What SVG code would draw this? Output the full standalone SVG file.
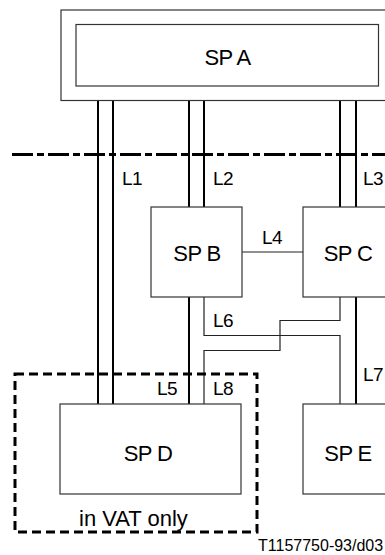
<svg xmlns="http://www.w3.org/2000/svg" width="385" height="555" viewBox="0 0 385 555">
<style>
.box{fill:#fff;stroke:#333;stroke-width:1.2}
.t{font-family:"Liberation Sans",Arial,sans-serif;fill:#000}
.sp{font-size:22px;text-anchor:middle;letter-spacing:-0.6px}
.lb{font-size:19px;letter-spacing:-0.6px}
.thick{stroke:#000;stroke-width:2;fill:none}
.thin{stroke:#222;stroke-width:1.2;fill:none}
</style>
<rect width="385" height="555" fill="#fff"/>
<g id="connectors">
<path class="thick" d="M98,100V404M113,100V404M189,100V207M204,100V207M340,100V207M356,100V207"/>
<path class="thick" d="M189,297V404M356,297V404"/>
<path class="thin" d="M242,252H303"/>
<path class="thin" d="M204,297V335.5H340V404"/>
<path class="thin" d="M340,297V320.5H280V350.5H204V404"/>
</g>
<g id="boundary">
<line x1="12" y1="154.5" x2="385" y2="154.5" stroke="#000" stroke-width="3" stroke-dasharray="21 4 7 4"/>
</g>
<g id="vat">
<rect x="15" y="374" width="242" height="158" fill="none" stroke="#000" stroke-width="3" stroke-dasharray="9 5"/>
<text class="t" x="79" y="526" font-size="22">in VAT only</text>
</g>
<g id="spa">
<rect class="box" x="61" y="10" width="340" height="90.5"/>
<rect class="box" x="76" y="24.5" width="302.5" height="61.5"/>
<text class="t sp" x="227.5" y="65">SP A</text>
</g>
<g id="spb">
<rect class="box" x="151" y="207" width="91" height="90"/>
<text class="t sp" x="197" y="261">SP B</text>
</g>
<g id="spc">
<rect class="box" x="303" y="207" width="100" height="90"/>
<text class="t sp" x="348" y="261">SP C</text>
</g>
<g id="spd">
<rect class="box" x="60" y="404" width="181" height="90"/>
<text class="t sp" x="148" y="461">SP D</text>
</g>
<g id="spe">
<rect class="box" x="303" y="404" width="100" height="90"/>
<text class="t sp" x="348" y="461">SP E</text>
</g>
<g id="labels">
<text class="t lb" x="122" y="185">L1</text>
<text class="t lb" x="213" y="185">L2</text>
<text class="t lb" x="363" y="185">L3</text>
<text class="t lb" x="272" y="244" text-anchor="middle">L4</text>
<text class="t lb" x="157" y="395">L5</text>
<text class="t lb" x="213" y="327">L6</text>
<text class="t lb" x="363" y="381">L7</text>
<text class="t lb" x="213" y="395">L8</text>
</g>
<text class="t" x="258" y="551" font-size="16">T1157750-93/d03</text>
</svg>
